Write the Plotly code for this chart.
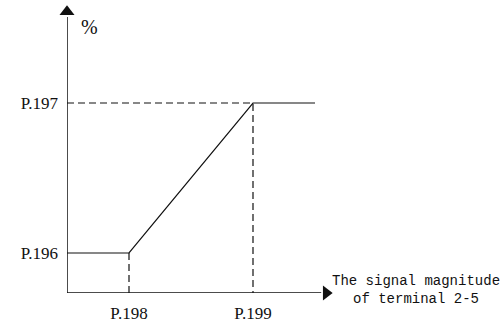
import plotly.graph_objects as go

# Signal magnitude breakpoints (x) and output levels (%) (y)
x_labels = ["P.198", "P.199"]
x_points = [1, 3]
y_labels = ["P.196", "P.197"]
y_points = [1, 4.75]

# Characteristic curve: flat, ramp, flat
curve_x = [0, 1, 3, 4]
curve_y = [1, 1, 4.75, 4.75]

# Axis extents
x_axis_end = 4.1
y_axis_end = 6.9

MONO = "Liberation Mono"
SERIF = "Liberation Serif"
INK = "#111111"

fig = go.Figure()

fig.add_trace(go.Scatter(
    x=curve_x, y=curve_y, mode="lines",
    line=dict(color=INK, width=1.2), hoverinfo="skip", showlegend=False,
))

# Dashed guides
fig.add_trace(go.Scatter(
    x=[0, x_points[1], x_points[1]], y=[y_points[1], y_points[1], 0],
    mode="lines", line=dict(color=INK, width=1.2, dash="7px,4px"),
    hoverinfo="skip", showlegend=False,
))
fig.add_trace(go.Scatter(
    x=[x_points[0], x_points[0]], y=[y_points[0], 0],
    mode="lines", line=dict(color=INK, width=1.2, dash="7px,4px"),
    hoverinfo="skip", showlegend=False,
))

# Axes with arrow heads
fig.add_trace(go.Scatter(
    x=[0, x_axis_end], y=[0, 0], mode="lines",
    line=dict(color=INK, width=1.5), hoverinfo="skip", showlegend=False, cliponaxis=False,
))
fig.add_trace(go.Scatter(
    x=[0, 0], y=[0, y_axis_end], mode="lines",
    line=dict(color=INK, width=1.5), hoverinfo="skip", showlegend=False, cliponaxis=False,
))
fig.add_trace(go.Scatter(
    x=[x_axis_end + 0.08], y=[0], mode="markers",
    marker=dict(symbol="triangle-right", size=13, color=INK),
    hoverinfo="skip", showlegend=False, cliponaxis=False,
))
fig.add_trace(go.Scatter(
    x=[0], y=[y_axis_end + 0.13], mode="markers",
    marker=dict(symbol="triangle-up", size=13, color=INK),
    hoverinfo="skip", showlegend=False, cliponaxis=False,
))

# Axis labels
fig.add_annotation(
    x=0.37, y=6.65, text="%", showarrow=False,
    font=dict(family=SERIF, size=20, color=INK),
)
fig.add_annotation(
    x=5.63, y=0.08, text="The signal magnitude<br>of terminal 2-5", showarrow=False,
    align="center", font=dict(family=MONO, size=14, color=INK),
)

fig.update_layout(
    width=502, height=322,
    margin=dict(l=67, r=0, t=0, b=29),
    paper_bgcolor="white", plot_bgcolor="white",
    xaxis=dict(
        range=[0, 435 / 62], showgrid=False, zeroline=False, showline=False,
        tickvals=x_points, ticktext=x_labels, ticks="", ticklabelstandoff=8,
        tickfont=dict(family=SERIF, size=17, color=INK), fixedrange=True,
    ),
    yaxis=dict(
        range=[0, 293 / 40], showgrid=False, zeroline=False, showline=False,
        tickvals=y_points, ticktext=y_labels, ticks="", ticklabelstandoff=8,
        tickfont=dict(family=SERIF, size=17, color=INK), fixedrange=True,
    ),
)

fig.write_html("out.html")
